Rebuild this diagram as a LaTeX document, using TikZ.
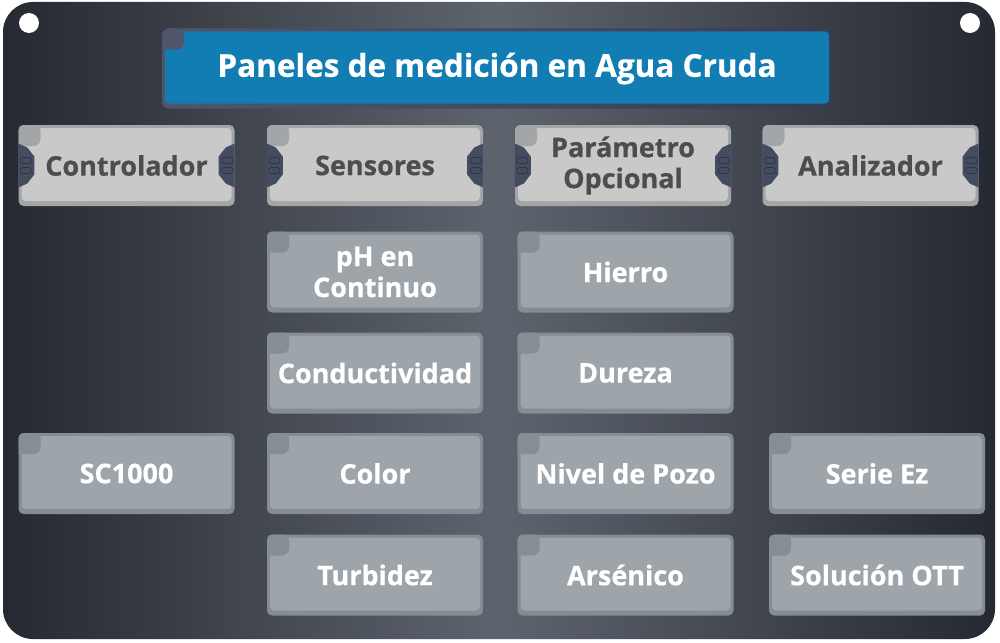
\documentclass[tikz,border=0pt]{standalone}
\usepackage{fontspec}
\setmainfont{Open Sans}[BoldFeatures={FakeBold=0.6}]
\definecolor{paneldark}{HTML}{252931}
\definecolor{panellight}{HTML}{5E646E}
\definecolor{titleblue}{HTML}{127DB3}
\definecolor{titleedge}{HTML}{4F5669}
\definecolor{titleedgeright}{HTML}{373C54}
\definecolor{headedge}{HTML}{A3A5A7}
\definecolor{headfill}{HTML}{C9C9C9}
\definecolor{headnotch}{HTML}{A2A6A9}
\definecolor{headtext}{HTML}{4D4D4D}
\definecolor{itemedge}{HTML}{858C92}
\definecolor{itemfill}{HTML}{9DA4AA}
\definecolor{itemnotch}{HTML}{858E93}
\definecolor{tabfill}{HTML}{444C5F}
\definecolor{tabslot}{HTML}{2F3544}
\tikzset{boxface/.style 2 args={path picture={
  \fill[#1,rounded corners=4pt] ([xshift=3pt,yshift=-3pt]path picture bounding box.north west)
    rectangle ([xshift=-3pt,yshift=5pt]path picture bounding box.south east);
  \fill[#2] ([xshift=0pt,yshift=0pt]path picture bounding box.north west)
    -- ([xshift=22pt,yshift=0pt]path picture bounding box.north west)
    [rounded corners=7pt] -- ([xshift=22pt,yshift=-21pt]path picture bounding box.north west)
    [sharp corners] -- ([xshift=0pt,yshift=-21pt]path picture bounding box.north west) -- cycle;}}}
\tikzset{panelbox/.style={rounded corners=5pt,minimum width=216pt,minimum height=81pt,
  inner sep=0pt,align=center,font=\fontsize{27}{31}\selectfont\bfseries}}
\tikzset{headbox/.style={panelbox,fill=headedge,text=headtext,boxface={headfill}{headnotch}}}
\tikzset{itembox/.style={panelbox,fill=itemedge,text=white,boxface={itemfill}{itemnotch}}}
\tikzset{tab/.style={fill=tabfill}}
\tikzset{slot/.style={draw=tabslot,line width=0.8pt,rounded corners=2.5pt}}

\begin{document}
\begin{tikzpicture}[x=1pt,y=-1pt]
  \useasboundingbox[fill=white] (0,0) rectangle (1000,642);

  % Placa de fondo
  \shade[left color=paneldark,right color=paneldark,middle color=panellight,
         rounded corners=30pt] (3,2) rectangle (995,639);
  \fill[white] (29,23) circle (10);
  \fill[white] (970,23) circle (10);

  % Titulo
  \node[rounded corners=7pt,left color=titleedge,right color=titleedgeright,
        minimum width=670pt,minimum height=80pt,inner sep=0pt,text=white,
        font=\fontsize{31.5}{36}\selectfont\bfseries,
        boxface={titleblue}{titleedge}] (title) at (497,68.5)
        {Paneles de medición en Agua Cruda};

  % Encabezados
  \node[headbox] (ctrl) at (126.5,165.5) {Controlador};
  \node[headbox] (sens) at (375,165.5) {Sensores};
  \node[headbox] (param) at (623,165.5) {Parámetro\\Opcional};
  \node[headbox] (anal) at (870.5,165.5) {Analizador};

  % Pestañas laterales
  \foreach \h in {ctrl,sens,param,anal} {
    \foreach \s/\f in {west/1,east/-1} {
      \begin{scope}[shift={(\h.\s)},xscale=\f]
        \fill[tab] (0,-22) -- (9,-18) -- (16,-9) -- (16,9) -- (9,18) -- (0,22) -- cycle;
        \draw[slot] (2,-8) rectangle (13,-2);
        \draw[slot] (2,2) rectangle (13,8);
      \end{scope}
    }
  }

  % Controlador
  \node[itembox] (sc) at (126.5,473.5) {SC1000};

  % Sensores
  \node[itembox] (ph) at (375,272) {pH en\\Continuo};
  \node[itembox] (cond) at (375,373) {Conductividad};
  \node[itembox] (color) at (375,473.5) {Color};
  \node[itembox] (turb) at (375,575) {Turbidez};

  % Parametro opcional
  \node[itembox] (hierro) at (625.5,272) {Hierro};
  \node[itembox] (dureza) at (625.5,373) {Dureza};
  \node[itembox] (pozo) at (625.5,473.5) {Nivel de Pozo};
  \node[itembox] (arsen) at (625.5,575) {Arsénico};

  % Analizador
  \node[itembox] (ez) at (877,473.5) {Serie Ez};
  \node[itembox] (ott) at (877,575) {Solución OTT};
\end{tikzpicture}
\end{document}
